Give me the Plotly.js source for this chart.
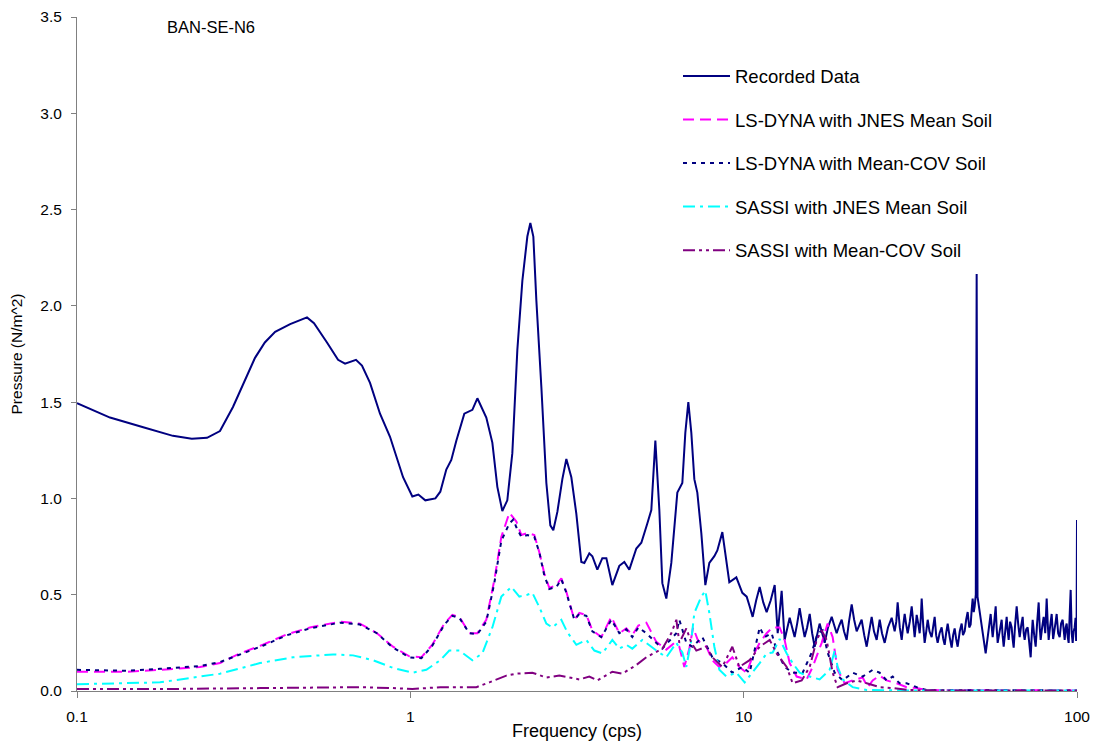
<!DOCTYPE html>
<html>
<head>
<meta charset="utf-8">
<script src="https://cdn.plot.ly/plotly-3.0.1.min.js"></script>
<style>html,body{margin:0;padding:0;background:#fff;}#chart{width:1097px;height:742px;}</style>
</head>
<body>
<div id="chart"></div>
<script>
// Recorded Data
const recF = [0.1,0.1256,0.158,0.194,0.221,0.2455,0.2685,0.2937,0.342,0.366,0.393,0.436,0.4898,0.514,0.5623,0.607,0.637,0.687,0.716,0.757,0.811,0.869,0.951,1.014,1.057,1.109,1.189,1.230,1.282,1.327,1.374,1.452,1.535,1.589,1.690,1.762,1.824,1.888,1.954,2.023,2.094,2.168,2.244,2.291,2.339,2.388,2.472,2.559,2.630,2.685,2.761,2.858,2.938,3.041,3.148,3.258,3.327,3.443,3.516,3.639,3.767,3.873,4.036,4.236,4.385,4.539,4.764,4.932,5.140,5.284,5.433,5.585,5.702,5.861,6.067,6.194,6.324,6.546,6.683,6.823,6.966,7.112,7.261,7.464,7.674,7.889,8.166,8.337,8.630,9.057,9.506,9.908,
10.21,10.42,10.64,10.9,11.17,11.45,11.72,12.05,12.39,12.65,13.00,13.27,13.5,13.74,13.98,14.22,14.47,14.72,14.98,15.24,15.5,15.78,16.05,16.33,16.6,16.90,17.2,17.50,17.9,18.37,18.7,19.01,19.35,19.68,20.0,20.37,20.7,21.09,21.45,21.83,22.2,22.59,23.0,23.39,23.8,24.21,24.6,25.06,
25.59,26.0,26.49,27.1,27.80,28.1,28.38,28.7,28.97,29.4,29.79,30.1,30.41,30.7,31.05,31.5,31.92,32.3,32.58,32.8,33.04,33.4,33.73,34.0,34.20,34.6,34.91,35.3,35.65,36.1,36.64,37.0,37.41,37.8,38.19,38.7,39.26,39.7,40.09,40.5,40.93,41.5,42.07,42.5,42.95,43.4,43.85,44.5,45.08,45.5,46.03,46.5,46.99,47.5,47.97,48.3,48.64,49.0,49.32,49.7,50.0,50.3,50.7,51.05,51.6,52.12,52.7,53.21,53.6,53.95,54.5,55.08,55.5,55.85,56.4,57.02,57.4,57.81,58.6,59.43,59.8,60.26,60.9,61.52,61.9,62.37,63.0,63.68,64.1,64.57,65.2,65.92,66.6,67.30,68.0,68.71,69.2,69.66,70.4,71.12,71.9,72.61,73.1,73.62,74.4,75.16,75.9,76.74,77.3,77.80,78.6,79.43,80.3,81.10,81.7,82.22,83.1,83.95,84.8,85.70,86.3,86.90,87.8,88.72,89.6,90.57,91.2,91.83,92.5,93.11,93.8,94.41,95.0,95.72,96.4,97.05,97.7,98.40,99.0,99.4,99.7,100];
const recP = [1.495,1.42,1.37,1.325,1.31,1.315,1.35,1.475,1.73,1.81,1.865,1.905,1.94,1.91,1.81,1.72,1.70,1.72,1.69,1.60,1.44,1.32,1.11,1.01,1.02,0.99,1.00,1.035,1.15,1.20,1.30,1.44,1.46,1.52,1.42,1.29,1.06,0.935,0.99,1.235,1.77,2.13,2.36,2.43,2.36,2.03,1.58,1.08,0.86,0.835,0.93,1.10,1.205,1.11,0.92,0.67,0.665,0.715,0.70,0.63,0.69,0.69,0.55,0.65,0.67,0.63,0.74,0.77,0.87,0.94,1.30,0.94,0.56,0.48,0.665,0.835,1.03,1.08,1.34,1.50,1.34,1.10,1.03,0.82,0.55,0.665,0.70,0.73,0.825,0.565,0.59,0.51,
0.49,0.44,0.385,0.47,0.54,0.46,0.41,0.47,0.55,0.30,0.52,0.265,0.32,0.38,0.33,0.28,0.35,0.43,0.35,0.28,0.33,0.40,0.30,0.23,0.29,0.35,0.30,0.25,0.33,0.385,0.34,0.30,0.34,0.37,0.31,0.265,0.36,0.45,0.37,0.31,0.34,0.37,0.29,0.23,0.31,0.385,0.31,0.265,
0.37,0.30,0.25,0.33,0.38,0.34,0.31,0.36,0.46,0.33,0.265,0.34,0.40,0.35,0.30,0.36,0.44,0.35,0.28,0.33,0.395,0.35,0.30,0.38,0.48,0.33,0.25,0.31,0.37,0.31,0.28,0.33,0.385,0.29,0.25,0.30,0.33,0.27,0.24,0.30,0.35,0.28,0.225,0.29,0.325,0.27,0.23,0.31,0.35,0.29,0.31,0.37,0.41,0.33,0.345,0.42,0.48,0.41,0.44,0.50,2.165,0.49,0.45,0.40,0.36,0.315,0.25,0.195,0.24,0.28,0.34,0.40,0.33,0.28,0.35,0.44,0.33,0.25,0.31,0.37,0.29,0.23,0.31,0.385,0.32,0.265,0.36,0.33,0.27,0.225,0.34,0.44,0.35,0.28,0.34,0.385,0.30,0.265,0.32,0.33,0.25,0.175,0.28,0.37,0.29,0.23,0.35,0.46,0.33,0.265,0.33,0.385,0.30,0.48,0.35,0.265,0.34,0.40,0.27,0.315,0.36,0.40,0.30,0.28,0.35,0.37,0.30,0.265,0.33,0.35,0.28,0.25,0.38,0.525,0.30,0.25,0.31,0.33,0.38,0.26,0.30,0.888];

// LS-DYNA with JNES Mean Soil
const ldjF = [0.1,0.1413,0.1774,0.234,0.2685,0.308,0.361,0.4266,0.50,0.615,0.706,0.794,0.887,0.993,1.079,1.164,1.265,1.337,1.403,1.503,1.589,1.690,1.786,1.875,1.982,2.080,2.153,2.244,2.355,2.438,2.523,2.612,2.742,2.838,2.938,3.041,3.105,3.214,3.373,3.516,3.741,4.009,4.236,4.446,4.634,4.831,5.105,5.470,5.861,6.194,6.412,6.637,6.871,7.05,7.3,7.727,8.054,8.453,8.872,9.247,9.705,10.21,10.64,11.17,11.72,12.22,12.82,13.27,13.74,14.42,15.45,16.11,17.14,17.86,18.49,19.14,20.09,21.23,22.75,23.55,24.38,25.59,26.85,28.77,30.83,33.04,35.40,40,50,60,70,80,90,100];
const ldjP = [0.10,0.10,0.11,0.125,0.145,0.195,0.24,0.295,0.33,0.36,0.35,0.30,0.23,0.18,0.175,0.24,0.35,0.395,0.385,0.30,0.30,0.37,0.575,0.80,0.925,0.88,0.81,0.82,0.81,0.72,0.61,0.535,0.55,0.585,0.515,0.43,0.37,0.405,0.395,0.315,0.28,0.385,0.30,0.325,0.29,0.34,0.355,0.255,0.215,0.25,0.23,0.125,0.22,0.33,0.26,0.23,0.16,0.125,0.145,0.175,0.125,0.095,0.18,0.25,0.30,0.33,0.33,0.265,0.145,0.075,0.06,0.125,0.25,0.35,0.28,0.11,0.04,0.055,0.07,0.02,0.055,0.08,0.055,0.04,0.02,0.015,0.005,0.004,0.003,0.004,0.003,0.003,0.004,0.003];

// LS-DYNA with Mean-COV Soil
const ldmF = [0.1,0.1413,0.1774,0.234,0.2685,0.308,0.361,0.4266,0.50,0.615,0.706,0.794,0.887,0.993,1.079,1.164,1.265,1.337,1.403,1.503,1.589,1.690,1.786,1.875,1.982,2.037,2.080,2.153,2.244,2.355,2.438,2.523,2.612,2.742,2.838,2.938,3.041,3.105,3.214,3.373,3.516,3.741,4.009,4.236,4.446,4.634,4.831,5.105,5.702,6.281,6.412,6.730,7.015,7.516,8.054,8.630,9.247,9.908,10.42,11.17,11.56,12.13,12.56,13.27,14.03,15.03,16.00,16.67,17.26,17.86,18.75,19.82,21.23,22.75,24.38,25.59,26.85,27.99,29.38,30.83,33.04,35.40,40,50,60,70,80,90,100];
const ldmP = [0.11,0.105,0.115,0.13,0.15,0.19,0.235,0.29,0.325,0.355,0.345,0.30,0.225,0.175,0.17,0.235,0.345,0.39,0.38,0.30,0.295,0.36,0.56,0.78,0.87,0.89,0.85,0.80,0.81,0.80,0.72,0.60,0.53,0.54,0.58,0.51,0.42,0.37,0.40,0.39,0.31,0.28,0.37,0.30,0.32,0.28,0.33,0.30,0.22,0.30,0.37,0.25,0.23,0.28,0.175,0.145,0.095,0.125,0.095,0.33,0.28,0.30,0.21,0.125,0.095,0.095,0.20,0.30,0.315,0.20,0.095,0.055,0.095,0.075,0.11,0.095,0.055,0.075,0.04,0.04,0.02,0.005,0.004,0.003,0.004,0.003,0.004,0.003,0.003];

// SASSI with JNES Mean Soil
const sjF = [0.1,0.1774,0.2685,0.354,0.4446,0.586,0.673,0.773,0.887,1.014,1.117,1.230,1.309,1.403,1.535,1.644,1.762,1.875,2.009,2.123,2.244,2.323,2.438,2.559,2.667,2.838,2.958,3.148,3.373,3.565,3.767,4.036,4.236,4.446,4.634,4.966,5.470,5.861,6.281,6.546,6.730,6.966,7.112,7.464,7.674,7.889,8.166,8.453,8.872,9.506,10.07,10.64,11.17,11.72,12.22,12.82,13.46,14.03,14.72,15.78,16.90,18.11,18.75,19.14,19.82,21.23,23.39,30,40,50,60,70,80,90,100];
const sjP = [0.035,0.045,0.09,0.145,0.175,0.19,0.185,0.16,0.12,0.095,0.11,0.16,0.21,0.21,0.16,0.195,0.33,0.49,0.54,0.49,0.50,0.51,0.435,0.35,0.33,0.37,0.305,0.24,0.265,0.21,0.195,0.265,0.22,0.24,0.22,0.265,0.21,0.175,0.25,0.20,0.125,0.265,0.405,0.49,0.52,0.405,0.23,0.11,0.075,0.095,0.045,0.095,0.145,0.195,0.20,0.27,0.195,0.145,0.095,0.075,0.06,0.11,0.21,0.125,0.06,0.02,0.005,0.003,0.004,0.003,0.004,0.003,0.004,0.003,0.003];

// SASSI with Mean-COV Soil
const smF = [0.1,0.1774,0.354,0.5623,0.706,0.887,1.014,1.230,1.578,1.726,1.941,2.080,2.323,2.559,2.799,3.214,3.443,3.639,4.036,4.325,4.764,5.105,5.702,6.067,6.281,6.412,6.730,6.966,7.211,7.727,8.054,8.630,9.247,9.705,10.42,11.17,11.97,12.56,13.46,14.03,14.93,15.78,16.56,17.14,17.74,18.49,19.14,20.37,21.83,23.39,25.59,27.99,31.48,40,50,60,70,80,90,100];
const smP = [0.01,0.01,0.015,0.02,0.02,0.015,0.01,0.02,0.02,0.045,0.08,0.09,0.095,0.07,0.08,0.06,0.075,0.055,0.10,0.09,0.135,0.175,0.22,0.30,0.37,0.25,0.325,0.25,0.21,0.23,0.175,0.125,0.23,0.125,0.16,0.23,0.265,0.195,0.125,0.04,0.055,0.125,0.265,0.315,0.265,0.095,0.02,0.04,0.055,0.04,0.02,0.015,0.005,0.003,0.004,0.003,0.003,0.004,0.003,0.003];

const yTicks = [0,0.5,1,1.5,2,2.5,3,3.5];
const yTickText = ['0.0','0.5','1.0','1.5','2.0','2.5','3.0','3.5'];
const xTicks = [0.1,1,10,100];
const xTickText = ['0.1','1','10','100'];

const FONT = 'Liberation Sans, Arial, sans-serif';

const traces = [
  {x: recF, y: recP, name: 'Recorded Data', legendgroup: 'a', line: {color: '#000080', width: 2}},
  {x: ldjF, y: ldjP, name: 'LS-DYNA with JNES Mean Soil', legendgroup: 'b', line: {color: '#FF00FF', width: 2, dash: '11px,6px'}},
  {x: ldmF, y: ldmP, name: 'LS-DYNA with Mean-COV Soil', legendgroup: 'c', line: {color: '#000080', width: 2, dash: '4px,5px'}},
  {x: sjF, y: sjP, name: 'SASSI with JNES Mean Soil', legendgroup: 'd', line: {color: '#00FFFF', width: 2, dash: '12px,5px,3px,5px'}},
  {x: smF, y: smP, name: 'SASSI with Mean-COV Soil', legendgroup: 'e', line: {color: '#800080', width: 2, dash: '12px,4px,3px,4px,3px,4px'}}
].map(t => Object.assign({type: 'scatter', mode: 'lines', hoverinfo: 'skip'}, t));

const layout = {
  width: 1097, height: 742,
  margin: {l: 77, r: 20, t: 17, b: 51},
  paper_bgcolor: '#fff', plot_bgcolor: '#fff',
  font: {family: FONT, size: 15, color: '#000'},
  showlegend: true,
  legend: {
    x: 0.601, y: 0.94, xanchor: 'left', yanchor: 'top',
    font: {family: FONT, size: 18.5, color: '#000'},
    traceorder: 'grouped', tracegroupgap: 16.5,
    itemwidth: 47, bgcolor: 'rgba(0,0,0,0)', borderwidth: 0
  },
  xaxis: {
    type: 'log', range: [-1, 2],
    tickvals: xTicks, ticktext: xTickText,
    ticks: 'outside', ticklen: 6, tickcolor: '#808080', tickwidth: 1,
    showline: true, linecolor: '#808080', linewidth: 1,
    showgrid: false, zeroline: false,
    tickfont: {family: FONT, size: 15.5},
    ticklabelstandoff: 5,
    title: {text: 'Frequency (cps)', font: {family: FONT, size: 18}, standoff: 0}
  },
  yaxis: {
    range: [0, 3.5],
    tickvals: yTicks, ticktext: yTickText,
    ticks: 'outside', ticklen: 5, tickcolor: '#808080', tickwidth: 1,
    showline: true, linecolor: '#808080', linewidth: 1,
    showgrid: false, zeroline: false,
    tickfont: {family: FONT, size: 15.5},
    ticklabelstandoff: 6,
    title: {text: 'Pressure (N/m^2)', font: {family: FONT, size: 15.5}, standoff: 13}
  },
  annotations: [{
    xref: 'paper', yref: 'paper', x: 0.088, y: 0.985, xanchor: 'left', yanchor: 'middle',
    text: 'BAN-SE-N6', showarrow: false, font: {family: FONT, size: 16.5, color: '#000'}
  }]
};

Plotly.newPlot('chart', traces, layout, {displayModeBar: false, staticPlot: true});
</script>
</body>
</html>
